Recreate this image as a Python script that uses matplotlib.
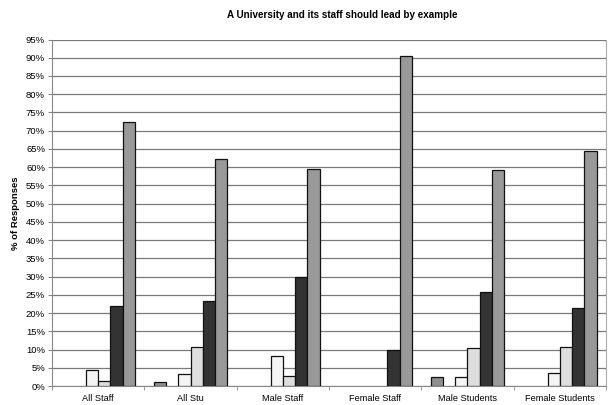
import matplotlib
matplotlib.use("Agg")
import matplotlib.pyplot as plt
import numpy as np

plt.rcParams['font.family'] = ['Liberation Sans', 'DejaVu Sans']

categories = ["All Staff", "All Stu", "Male Staff", "Female Staff", "Male Students", "Female Students"]
s1 = [0, 1.0, 0, 0, 2.5, 0]
s2 = [0, 0, 0, 0, 0, 0]
s3 = [4.5, 3.2, 8.2, 0, 2.6, 3.6]
s4 = [1.5, 10.6, 2.8, 0, 10.3, 10.7]
s5 = [22.0, 23.3, 30.0, 9.8, 25.7, 21.5]
s6 = [72.5, 62.3, 59.5, 90.5, 59.2, 64.5]
series = [s1, s2, s3, s4, s5, s6]
colors = ["#8f8f8f", "#bbbbbb", "#f4f4f4", "#dedede", "#333333", "#999999"]
yticks = list(range(0, 96, 5))

fig = plt.figure(figsize=(6.09, 4.05), dpi=100)
ax = fig.add_axes([52 / 609, 1 - 386 / 405, (606 - 52) / 609, (386 - 39.5) / 405])

n = len(series)
x = np.arange(len(categories))
w = 0.8 / n
for i, (vals, c) in enumerate(zip(series, colors)):
    pos = x - 0.4 + w * (i + 0.5)
    vv = np.array(vals, dtype=float)
    mask = vv > 0
    ax.bar(pos[mask], vv[mask], width=w, color=c, edgecolor="#111111", linewidth=0.9, zorder=3)

ax.set_xlim(-0.5, len(categories) - 0.5)
ax.set_ylim(0, 95)
ax.set_yticks(yticks)
ax.set_yticklabels([f"{t}%" for t in yticks], fontsize=6.8)
ax.yaxis.grid(True, color="#7a7a7a", linewidth=0.9, zorder=0)
ax.set_axisbelow(True)

ax.set_xticks(x)
ax.set_xticklabels(categories, fontsize=6.6)
ax.tick_params(axis='x', length=0, pad=6)
ax.set_xticks(np.arange(-0.5, len(categories) + 0.5, 1), minor=True)
ax.tick_params(axis='x', which='minor', length=3, color="#888888", direction='out')
ax.tick_params(axis='y', length=3, color="#888888", pad=2)

ax.spines["top"].set_visible(False)
ax.spines["right"].set_color("#aaaaaa")
ax.spines["left"].set_color("#888888")
ax.spines["bottom"].set_color("#888888")

ax.set_ylabel("% of Responses", fontsize=6.8, fontweight="bold", labelpad=4)
fig.text(342 / 609, 1 - 15 / 405, "A University and its staff should lead by example",
         ha="center", va="center", fontsize=7.1, fontweight="bold")

fig.savefig("out.png", dpi=100)
